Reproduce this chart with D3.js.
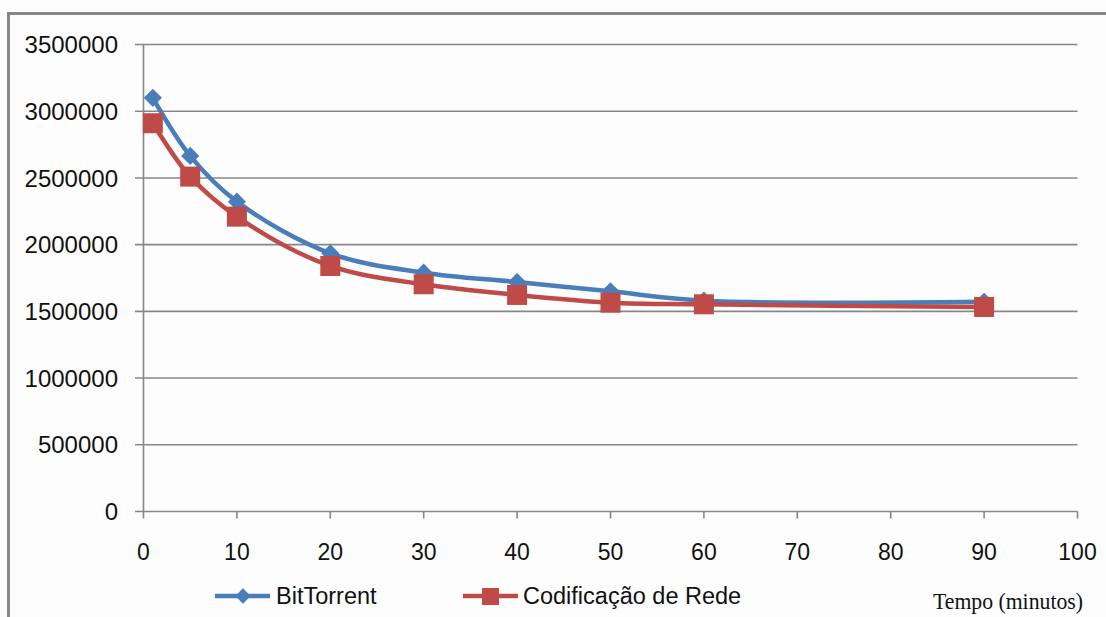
<!DOCTYPE html>
<html><head><meta charset="utf-8">
<script src="https://cdn.jsdelivr.net/npm/d3@7"></script>
<style>body{margin:0;background:#fdfdfd;}svg{display:block;}</style>
</head><body>
<script>
const xValues = [1, 5, 10, 20, 30, 40, 50, 60, 90];
const bitTorrent = [3100000, 2665000, 2322000, 1935000, 1790000, 1720000, 1650000, 1580000, 1572000];
const codificacao = [2910000, 2510000, 2210000, 1840000, 1703000, 1623000, 1565000, 1553000, 1533000];
const seriesNames = ["BitTorrent", "Codificação de Rede"];
const yTicks = [0, 500000, 1000000, 1500000, 2000000, 2500000, 3000000, 3500000];
const xTicks = [0, 10, 20, 30, 40, 50, 60, 70, 80, 90, 100];
const xTitle = "Tempo (minutos)";

const W = 1106, H = 617;
const svg = d3.select("body").append("svg").attr("width", W).attr("height", H);
svg.append("rect").attr("width", W).attr("height", H).attr("fill", "#fdfdfd");

// frame
svg.append("path").attr("d", "M8.5,617 L8.5,13.5 L1106,13.5")
  .attr("fill", "none").attr("stroke", "#878787").attr("stroke-width", 3);

const x = d3.scaleLinear().domain([0, 100]).range([143.5, 1077.5]);
const y = d3.scaleLinear().domain([0, 3500000]).range([511.5, 44.5]);
const font = "'Liberation Sans', Arial, sans-serif";
const grid = "#878787";

// gridlines
svg.append("g").selectAll("line").data(yTicks).join("line")
  .attr("x1", 135).attr("x2", x(100)).attr("y1", d => y(d)).attr("y2", d => y(d))
  .attr("stroke", grid).attr("stroke-width", 1.6);
// y axis line
svg.append("line").attr("x1", x(0)).attr("x2", x(0)).attr("y1", y(3500000)).attr("y2", y(0))
  .attr("stroke", grid).attr("stroke-width", 1.6);
// x ticks
svg.append("g").selectAll("line").data(xTicks).join("line")
  .attr("x1", d => x(d)).attr("x2", d => x(d)).attr("y1", y(0)).attr("y2", y(0) + 7)
  .attr("stroke", grid).attr("stroke-width", 1.6);

// labels
svg.append("g").selectAll("text").data(yTicks).join("text")
  .attr("x", 118).attr("y", d => y(d)).attr("dy", "0.36em")
  .attr("text-anchor", "end").attr("font-family", font).attr("font-size", 24)
  .attr("fill", "#111").text(d => d);
svg.append("g").selectAll("text").data(xTicks).join("text")
  .attr("x", d => x(d)).attr("y", 552).attr("dy", "0.36em")
  .attr("text-anchor", "middle").attr("font-family", font).attr("font-size", 23)
  .attr("fill", "#111").text(d => d);

const blue = "#4a7ebb", red = "#be4b48";
const line = d3.line().x(d => x(d[0])).y(d => y(d[1])).curve(d3.curveCatmullRom.alpha(0.5));
const bData = xValues.map((v, i) => [v, bitTorrent[i]]);
const rData = xValues.map((v, i) => [v, codificacao[i]]);

svg.append("path").datum(bData).attr("d", line).attr("fill", "none")
  .attr("stroke", blue).attr("stroke-width", 4.5);
svg.append("g").selectAll("path").data(bData).join("path")
  .attr("d", d3.symbol(d3.symbolDiamond2, 210))
  .attr("transform", d => `translate(${x(d[0])},${y(d[1])})`).attr("fill", blue);

svg.append("path").datum(rData).attr("d", line).attr("fill", "none")
  .attr("stroke", red).attr("stroke-width", 4.5);
svg.append("g").selectAll("rect").data(rData).join("rect")
  .attr("x", d => x(d[0]) - 10).attr("y", d => y(d[1]) - 10)
  .attr("width", 20).attr("height", 20).attr("fill", red);

// legend
const lg = svg.append("g");
lg.append("line").attr("x1", 215).attr("x2", 270).attr("y1", 596).attr("y2", 596)
  .attr("stroke", blue).attr("stroke-width", 4.5);
lg.append("path").attr("d", d3.symbol(d3.symbolDiamond2, 150))
  .attr("transform", "translate(243,596)").attr("fill", blue);
lg.append("text").attr("x", 276).attr("y", 596).attr("dy", "0.36em")
  .attr("font-family", font).attr("font-size", 23.5).attr("fill", "#111").text(seriesNames[0]);
lg.append("line").attr("x1", 463).attr("x2", 518).attr("y1", 596).attr("y2", 596)
  .attr("stroke", red).attr("stroke-width", 4.5);
lg.append("rect").attr("x", 482).attr("y", 588).attr("width", 17).attr("height", 17).attr("fill", red);
lg.append("text").attr("x", 523).attr("y", 596).attr("dy", "0.36em")
  .attr("font-family", font).attr("font-size", 23.5).attr("fill", "#111").text(seriesNames[1]);

svg.append("text").attr("x", 933).attr("y", 601).attr("dy", "0.36em")
  .attr("textLength", 150).attr("lengthAdjust", "spacingAndGlyphs")
  .attr("font-family", "'Liberation Serif', 'Times New Roman', serif").attr("font-size", 23)
  .attr("fill", "#111").text(xTitle);
</script>
</body></html>
